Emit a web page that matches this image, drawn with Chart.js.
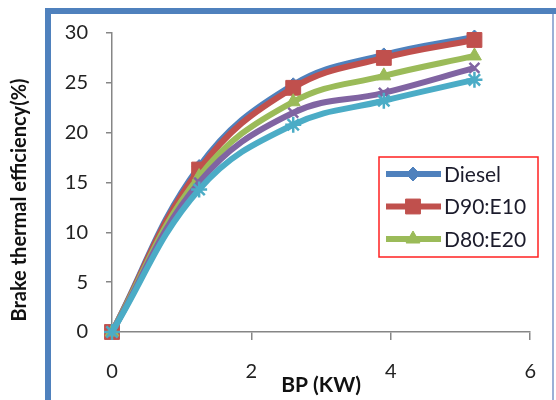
<!DOCTYPE html>
<html lang="en">
<head>
    <meta charset="UTF-8">
    <meta name="viewport" content="width=device-width, initial-scale=1.0">
    <title>Brake thermal efficiency vs BP</title>
    <style>
        html, body {
            margin: 0;
            padding: 0;
            background-color: #fff;
        }
        .wrap {
            position: relative;
            width: 556px;
            height: 400px;
        }
    </style>
</head>
<body>
    <div class="wrap">
        <canvas id="bteChart" width="556" height="400"></canvas>
    </div>

    <script src="https://cdn.jsdelivr.net/npm/chart.js"></script>
    <script>
        // values
        const bp = [0, 1.25, 2.6, 3.9, 5.2];
        const diesel = [0, 16.6, 24.8, 27.8, 29.6];
        const d90e10 = [0, 16.3, 24.5, 27.5, 29.3];
        const d80e20 = [0, 15.6, 23.1, 25.7, 27.7];
        const d70e30 = [0, 15.0, 22.0, 24.0, 26.5];
        const d60e40 = [0, 14.3, 20.8, 23.2, 25.3];
        const xTicks = [0, 2, 4, 6];
        const yTicks = [0, 5, 10, 15, 20, 25, 30];
        const legendNames = ['Diesel', 'D90:E10', 'D80:E20'];

        const FONT = 'Lato, "Open Sans", sans-serif';
        const AXIS = '#868686';

        const series = (label, values, color, style, radius, order) => ({
            label: label,
            data: values.map((v, i) => ({ x: bp[i], y: v })),
            borderColor: color,
            backgroundColor: color,
            pointBackgroundColor: color,
            pointBorderColor: color,
            borderWidth: 6,
            pointStyle: style,
            pointRadius: radius,
            pointHoverRadius: radius,
            pointBorderWidth: (style === 'crossRot' || style === 'star') ? 2.5 : 1,
            tension: 0.4,
            order: order,
            clip: false
        });

        // frame around the plot, legend box and the rotated y title
        const decor = {
            id: 'decor',
            beforeDraw(chart) {
                const ctx = chart.ctx;
                ctx.save();
                ctx.fillStyle = '#fff';
                ctx.fillRect(0, 0, chart.width, chart.height);
                ctx.strokeStyle = '#9bb0d6';
                ctx.lineWidth = 2;
                ctx.beginPath();
                ctx.moveTo(553, 11);
                ctx.lineTo(553, chart.height);
                ctx.stroke();
                ctx.strokeStyle = '#4f81bd';
                ctx.lineWidth = 6;
                ctx.beginPath();
                ctx.moveTo(48, chart.height);
                ctx.lineTo(48, 11);
                ctx.lineTo(chart.width, 11);
                ctx.stroke();
                ctx.restore();
            },
            afterDraw(chart) {
                const ctx = chart.ctx;
                ctx.save();

                // y title
                ctx.translate(20, 200);
                ctx.rotate(-Math.PI / 2);
                ctx.fillStyle = '#111';
                ctx.font = 'bold 20px ' + FONT;
                ctx.textAlign = 'center';
                ctx.textBaseline = 'middle';
                ctx.fillText('Brake thermal efficiency(%)', 0, 0);
                ctx.setTransform(1, 0, 0, 1, 0, 0);

                // legend
                const box = { x: 379, y: 157, w: 159, h: 100 };
                ctx.fillStyle = '#fff';
                ctx.fillRect(box.x, box.y, box.w, box.h);
                ctx.strokeStyle = '#ff2020';
                ctx.lineWidth = 1.5;
                ctx.strokeRect(box.x, box.y, box.w, box.h);

                const items = chart.data.datasets.filter(d => legendNames.includes(d.label));
                items.forEach((ds, i) => {
                    const y = box.y + 17 + i * 32.5;
                    ctx.strokeStyle = ds.borderColor;
                    ctx.lineWidth = 6;
                    ctx.beginPath();
                    ctx.moveTo(386, y);
                    ctx.lineTo(441, y);
                    ctx.stroke();
                    ctx.fillStyle = ds.borderColor;
                    ctx.lineWidth = 1;
                    Chart.helpers.drawPoint(ctx, {
                        pointStyle: ds.pointStyle,
                        radius: ds.pointRadius,
                        borderWidth: 1,
                        rotation: 0
                    }, 413, y);
                    ctx.fillStyle = '#1c1c2c';
                    ctx.font = '21px ' + FONT;
                    ctx.textAlign = 'left';
                    ctx.textBaseline = 'middle';
                    ctx.fillText(ds.label, 444, y + 1);
                });
                ctx.restore();
            }
        };

        new Chart(document.getElementById('bteChart'), {
            type: 'line',
            data: {
                datasets: [
                    series('Diesel', diesel, '#4f81bd', 'rectRot', 7, 5),
                    series('D90:E10', d90e10, '#c0504d', 'rect', 10.5, 4),
                    series('D80:E20', d80e20, '#9bbb59', 'triangle', 8, 3),
                    series('D70:E30', d70e30, '#8064a2', 'crossRot', 7, 2),
                    series('D60:E40', d60e40, '#4bacc6', 'star', 8, 1)
                ]
            },
            options: {
                responsive: false,
                animation: false,
                layout: {
                    padding: { left: 8, right: 19, top: 33, bottom: 2 }
                },
                plugins: {
                    legend: { display: false },
                    tooltip: { enabled: false }
                },
                scales: {
                    x: {
                        type: 'linear',
                        min: 0,
                        max: 6,
                        afterBuildTicks: s => { s.ticks = xTicks.map(v => ({ value: v })); },
                        afterFit: s => { s.height = 66; },
                        border: { color: AXIS, width: 1.5 },
                        grid: { drawOnChartArea: false, color: AXIS, lineWidth: 1.5, tickLength: 8 },
                        ticks: {
                            color: '#222',
                            font: { family: FONT, size: 20 },
                            padding: 20,
                            maxRotation: 0
                        },
                        title: {
                            display: true,
                            text: 'BP (KW)',
                            color: '#111',
                            font: { family: FONT, size: 21, weight: 'bold' },
                            padding: 0
                        }
                    },
                    y: {
                        min: 0,
                        max: 30,
                        afterBuildTicks: s => { s.ticks = yTicks.map(v => ({ value: v })); },
                        afterFit: s => { s.width = 104; },
                        border: { color: AXIS, width: 1.5 },
                        grid: { drawOnChartArea: false, color: AXIS, lineWidth: 1.5, tickLength: 6 },
                        ticks: {
                            color: '#222',
                            font: { family: FONT, size: 20 },
                            padding: 18
                        }
                    }
                }
            },
            plugins: [decor]
        });
    </script>
</body>
</html>
